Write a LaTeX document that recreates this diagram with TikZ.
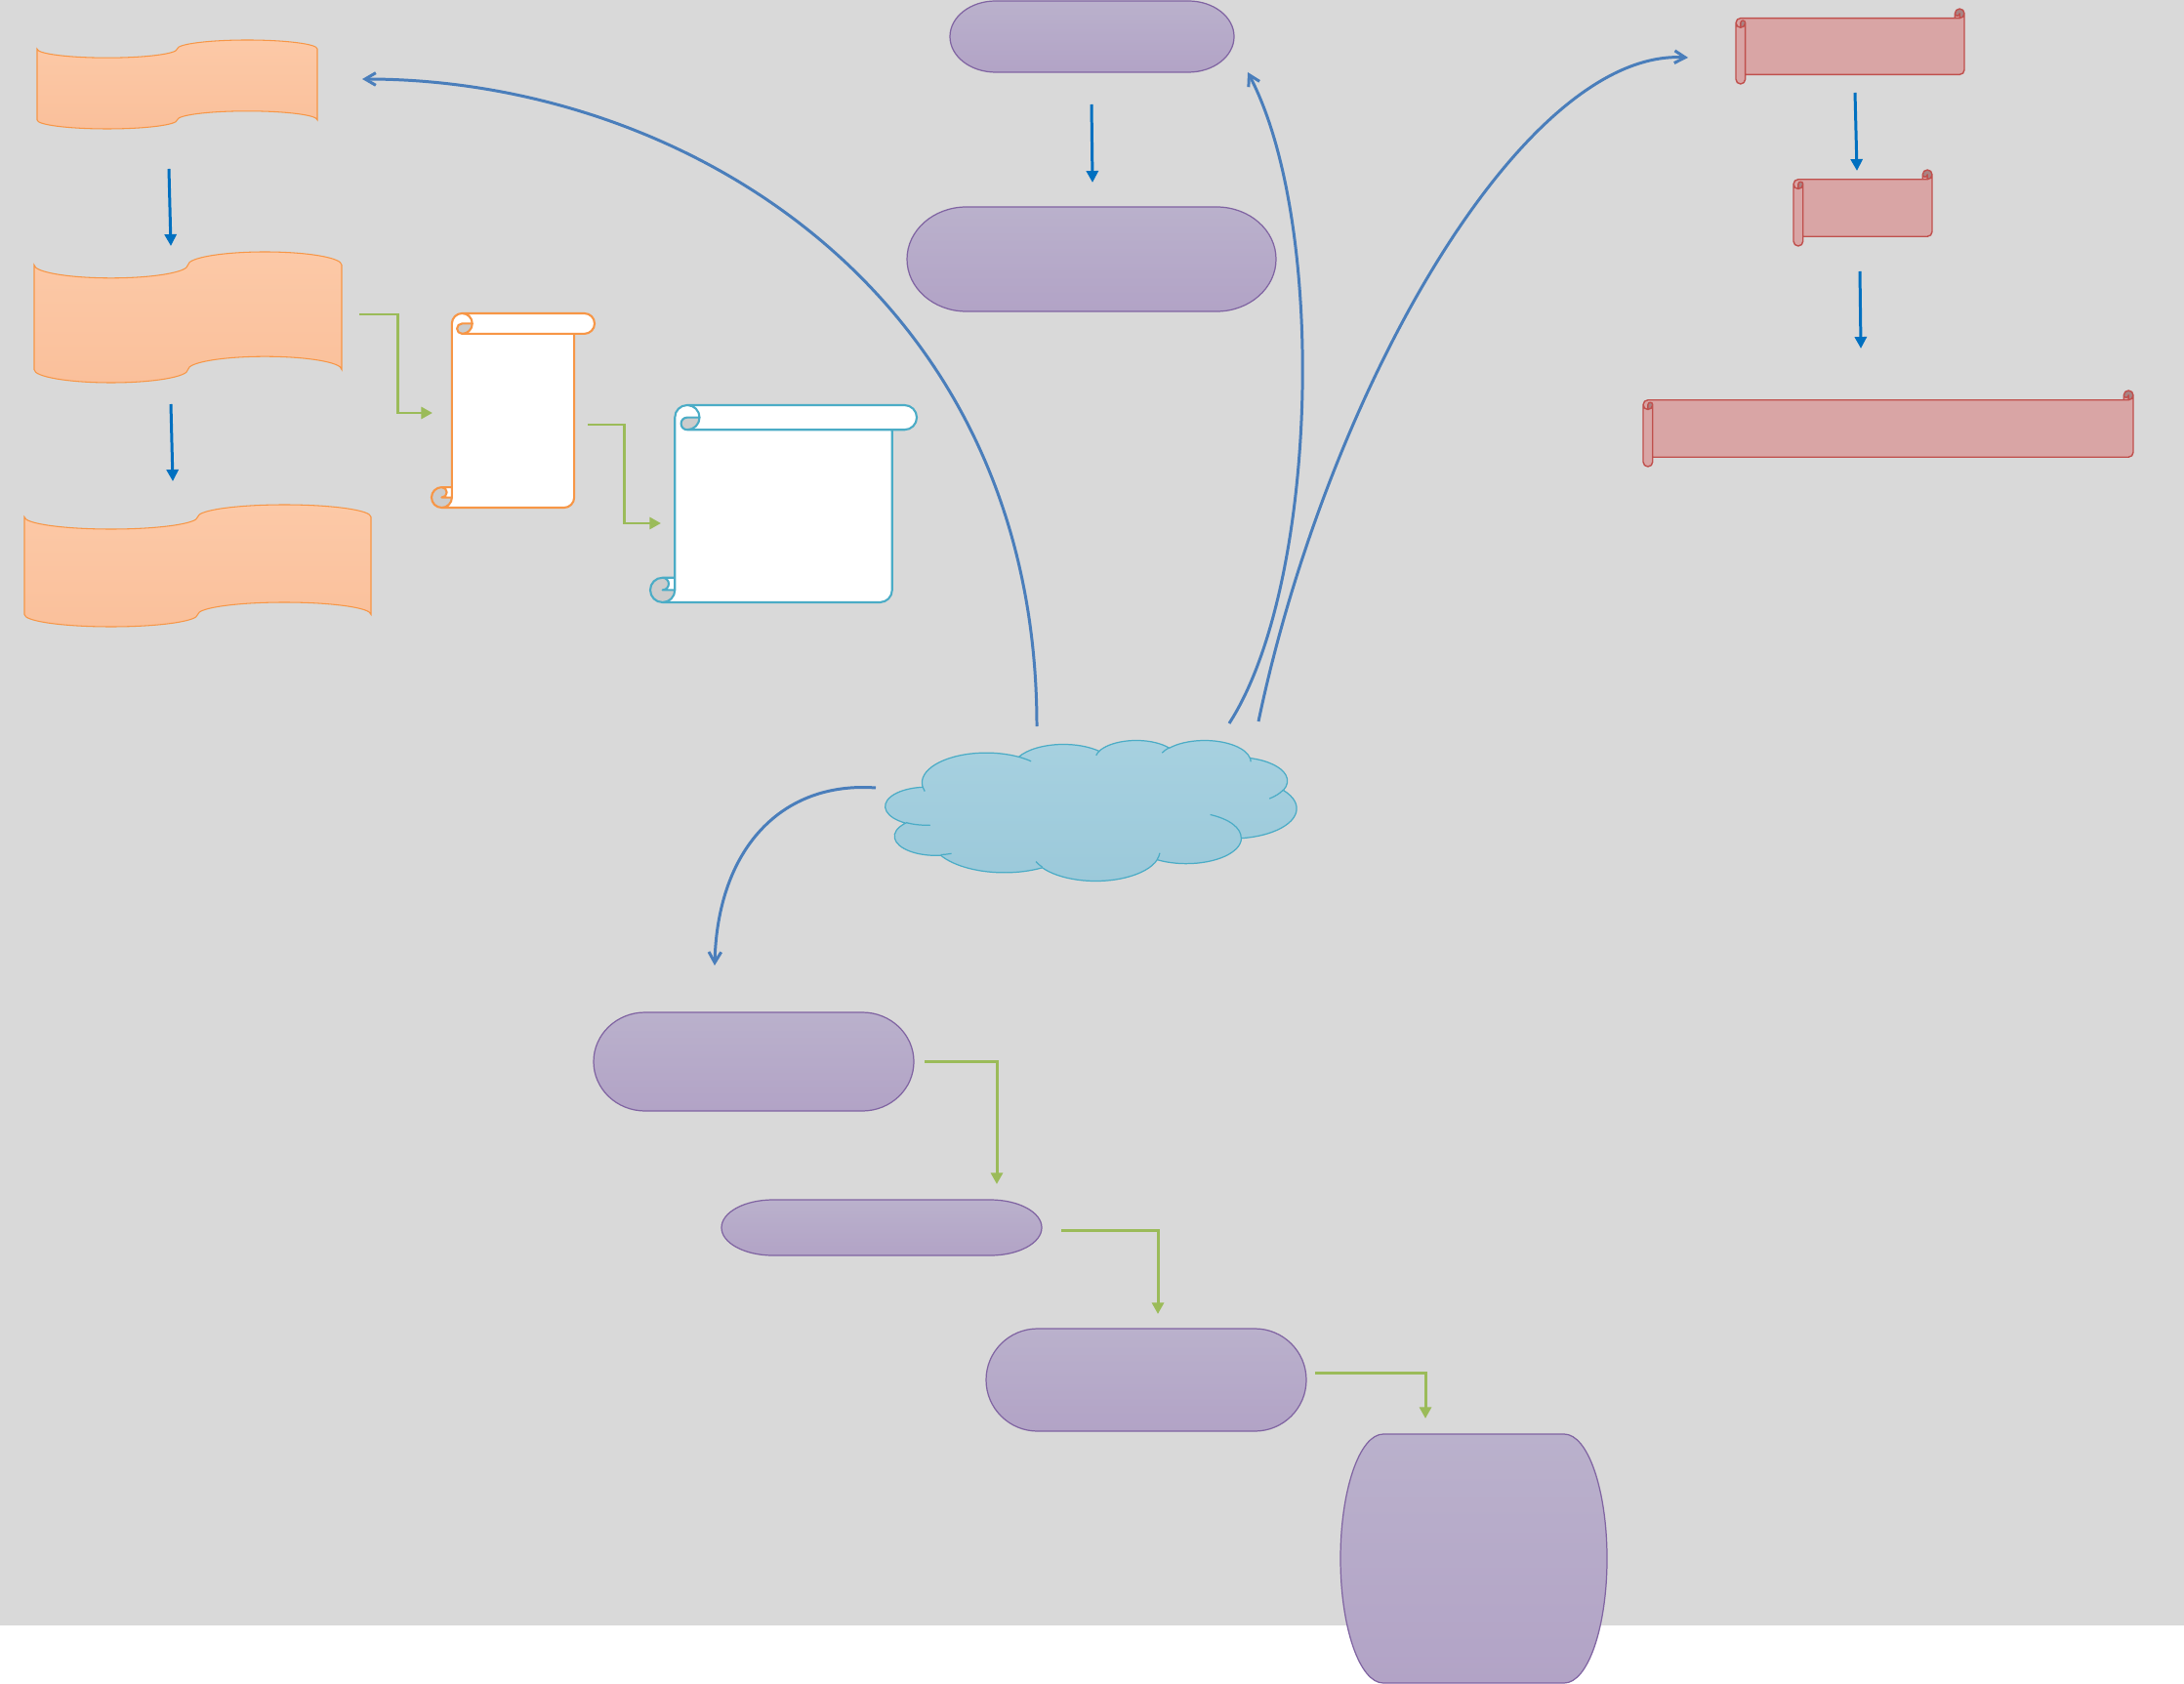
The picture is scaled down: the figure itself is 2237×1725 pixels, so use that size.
\documentclass[tikz,border=0pt]{standalone}
\usetikzlibrary{arrows.meta}
\definecolor{bgc}{HTML}{D9D9D9}
\definecolor{orT}{HTML}{FCC9A7}
\definecolor{orB}{HTML}{FAC09B}
\definecolor{orS}{HTML}{F79646}
\definecolor{puT}{HTML}{BAB1CC}
\definecolor{puB}{HTML}{B2A3C6}
\definecolor{puS}{HTML}{8064A2}
\definecolor{reF}{HTML}{D9A5A5}
\definecolor{reS}{HTML}{C0504D}
\definecolor{reD}{HTML}{A98383}
\definecolor{clT}{HTML}{A7D1E0}
\definecolor{clB}{HTML}{9BC9DA}
\definecolor{clS}{HTML}{4BACC6}
\definecolor{bluS}{HTML}{4BACC6}
\definecolor{curvC}{HTML}{4A7EBB}
\definecolor{arrB}{HTML}{0070C0}
\definecolor{grn}{HTML}{9BBB59}
\definecolor{scrD}{HTML}{CCCCCC}
\tikzset{
 tapest/.style={draw=orS, line width=0.3pt, top color=orT, bottom color=orB},
 purp/.style={draw=puS, line width=0.35pt, top color=puT, bottom color=puB},
 cloudst/.style={draw=clS, line width=0.35pt, top color=clT, bottom color=clB},
 cloudin/.style={draw=clS, line width=0.35pt},
 osfill/.style={fill=white}, osdark/.style={fill=scrD},
 osline/.style={draw=orS, line width=0.6pt, line join=round},
 bsfill/.style={fill=white}, bsdark/.style={fill=scrD},
 bsline/.style={draw=bluS, line width=0.6pt, line join=round},
 rsfill/.style={fill=reF}, rsdark/.style={fill=reD},
 rsline/.style={draw=reS, line width=0.4pt, line join=round},
 curv/.style={draw=curvC, line width=0.85pt, -{Straight Barb[length=3.1pt,width=3.6pt]}},
 barr/.style={draw=arrB, line width=0.85pt, -{Triangle[length=3.4pt,width=3.4pt]}},
 garr/.style={draw=grn, line width=0.85pt, -{Triangle[length=3.3pt,width=3.4pt]}},
 carc/.style n args={4}{/utils/exec={%
   \pgfmathsetmacro\cA{atan2(#1*sin(#3),#2*cos(#3))}%
   \pgfmathsetmacro\cB{mod(atan2(#1*sin(#3+#4),#2*cos(#3+#4))-\cA+720,360)}},
   insert path={arc[x radius=#1,y radius=#2,start angle=\cA,delta angle=\cB]}}
}
% punched tape: L T w h
\newcommand\ptape[4]{%
\begin{scope}[shift={(#1,#2)}]
\pgfmathsetmacro\ptW{#3/4}\pgfmathsetmacro\ptH{#4/10}%
\path[tapest] (0,\ptH) arc[start angle=180,delta angle=-180,x radius=\ptW,y radius=\ptH]
  arc[start angle=180,delta angle=180,x radius=\ptW,y radius=\ptH] -- (#3,#4-\ptH)
  arc[start angle=0,delta angle=-180,x radius=\ptW,y radius=\ptH]
  arc[start angle=0,delta angle=180,x radius=\ptW,y radius=\ptH] -- cycle;
\end{scope}}
% terminator: L T w h
\newcommand\termshape[4]{%
\pgfmathsetmacro\tmA{#3*0.16088}\pgfmathsetmacro\tmR{#4/2}%
\path[purp] (#1+\tmA,#2) -- (#1+#3-\tmA,#2) arc[start angle=-90,delta angle=180,x radius=\tmA,y radius=\tmR]
  -- (#1+\tmA,#2+#4) arc[start angle=90,delta angle=180,x radius=\tmA,y radius=\tmR] -- cycle;}
% vertical scroll: L T w h transform prefix
\newcommand\vscroll[6]{%
\begin{scope}[shift={(#1,#2)},#5]
\pgfmathsetmacro\scW{#3}\pgfmathsetmacro\scH{#4}%
\pgfmathsetmacro\scC{0.125*min(#3,#4)}%
\pgfmathsetmacro\scB{\scC/2}\pgfmathsetmacro\scQ{\scC/4}%
\path[#6fill] (\scC,\scH-\scC) -- (\scC,\scB) arc[start angle=180,delta angle=90,radius=\scB]
  -- (\scW-\scB,0) arc[start angle=270,delta angle=180,radius=\scB] -- (\scW-\scC,\scC)
  -- (\scW-\scC,\scH-\scB) arc[start angle=0,delta angle=90,radius=\scB]
  -- (\scB,\scH) arc[start angle=90,delta angle=180,radius=\scB] -- cycle;
\path[#6dark] (2*\scC,\scB) arc[start angle=0,delta angle=90,radius=\scB]
  arc[start angle=90,delta angle=180,radius=\scQ] -- cycle;
\path[#6dark] (\scC,\scH-\scB) arc[start angle=0,delta angle=270,radius=\scB]
  arc[start angle=270,delta angle=180,radius=\scQ] -- cycle;
\path[#6line] (\scC,\scH-\scC) -- (\scC,\scB) arc[start angle=180,delta angle=90,radius=\scB]
  -- (\scW-\scB,0) arc[start angle=270,delta angle=180,radius=\scB] -- (\scW-\scC,\scC)
  -- (\scW-\scC,\scH-\scB) arc[start angle=0,delta angle=90,radius=\scB]
  -- (\scB,\scH) arc[start angle=90,delta angle=180,radius=\scB] -- cycle
  (\scC+\scB,0) arc[start angle=270,delta angle=180,radius=\scB]
  arc[start angle=90,delta angle=180,radius=\scQ] -- (2*\scC,\scB)
  (\scW-\scC,\scC) -- (\scC+\scB,\scC)
  (\scB,\scH-\scC) arc[start angle=270,delta angle=180,radius=\scQ] -- (\scC,\scH-\scB)
  (\scB,\scH) arc[start angle=90,delta angle=-90,radius=\scB] -- (\scC,\scH-\scC);
\end{scope}}
\begin{document}
\begin{tikzpicture}[x=0.01cm,y=-0.01cm]
\useasboundingbox (0,0) rectangle (2237,1725);
\fill[bgc] (0,0) rectangle (2237,1665);
% left column: punched tapes
\ptape{38}{41}{287}{91}
\ptape{35}{258}{315}{134}
\ptape{25}{517}{355}{125}
% scrolls
\vscroll{442}{321}{167}{199}{}{os}
\vscroll{666}{415}{273}{202}{}{bs}
% top purple
\termshape{973}{1}{291}{73}
\termshape{929}{212}{378}{107}
% red scrolls
\vscroll{1778}{9}{77}{234}{cm={0,-1,-1,0,(0,0)}}{rs}
\vscroll{1837}{174}{78}{142}{cm={0,-1,-1,0,(0,0)}}{rs}
\vscroll{1683}{400}{78}{502}{cm={0,-1,-1,0,(0,0)}}{rs}
% cloud
\begin{scope}[shift={(907,758)},xscale=421/4320,yscale=144/4320]
\path[cloudst] (390,1437)
 [carc={675.3}{919.0}{-190.4875}{123.7805}]
 [carc={533.3}{726.7}{-144.1024}{89.9452}]
 [carc={436.5}{594.5}{-145.8079}{99.7230}]
 [carc={485.7}{659.5}{-130.9861}{117.2417}]
 [carc={533.3}{727.3}{-78.7089}{109.0269}]
 [carc={677.5}{922.0}{-46.2673}{130.2690}]
 [carc={578.5}{786.7}{0.6250}{114.0333}]
 [carc={675.2}{921.5}{22.4516}{115.1726}]
 [carc={772.0}{1054.3}{66.2426}{75.7110}]
 [carc={436.0}{591.8}{-274.9421}{146.7356}]
 [carc={434.5}{594.5}{-246.8285}{152.5189}] -- cycle;
\path[cloudin]
 (469.3,2617.7) [carc={434.5}{594.5}{86.7420}{26.4295}]
 (692.8,3489.9) [carc={436.0}{591.8}{73.6105}{11.4475}]
 (1647.8,3909.0) [carc={675.2}{921.5}{137.6242}{14.0811}]
 (2882.7,3475.1) [carc={675.2}{921.5}{6.4533}{15.9984}]
 (3412.9,2295.4) [carc={578.5}{786.7}{-70.2924}{70.9174}]
 (4179.8,1535.4) [carc={533.3}{727.3}{30.3180}{27.7515}]
 (3832.4,542.6) [carc={485.7}{659.5}{-13.7443}{14.8589}]
 (2907.8,395.2) [carc={485.7}{659.5}{-149.1815}{18.1954}]
 (2214.1,472.0) [carc={436.5}{594.5}{-163.4943}{17.6864}]
 (1400.0,519.2) [carc={675.3}{919.0}{-66.7070}{12.3194}]
 (412.7,1578.9) [carc={675.3}{919.0}{157.6544}{11.8582}];
\end{scope}
% bottom purple
\termshape{608}{1037}{328}{101}
\termshape{739}{1229}{328}{57}
\termshape{1010}{1361}{328}{105}
\termshape{1373}{1469}{273}{255}
% connector end points
\coordinate (a1s) at (173,173); \coordinate (a1e) at (175,252);
\coordinate (a2s) at (175,414); \coordinate (a2e) at (177,493);
\coordinate (a3s) at (1118,107); \coordinate (a3e) at (1119,187);
\coordinate (a4s) at (1900,95); \coordinate (a4e) at (1902,175);
\coordinate (a5s) at (1905,278); \coordinate (a5e) at (1906,357);
\coordinate (g1s) at (368,322); \coordinate (g1e) at (443,423);
\coordinate (g2s) at (602,435); \coordinate (g2e) at (677,536);
\coordinate (g3s) at (947,1087); \coordinate (g3e) at (1021,1213);
\coordinate (g4s) at (1087,1260); \coordinate (g4e) at (1186,1346);
\coordinate (g5s) at (1347,1406); \coordinate (g5e) at (1460,1453);
\coordinate (c1s) at (1062,744); \coordinate (c1e) at (371,81);
\coordinate (c2s) at (1259,741); \coordinate (c2e) at (1278,74);
\coordinate (c3s) at (1289,739); \coordinate (c3e) at (1729,59);
\coordinate (c4s) at (897,807); \coordinate (c4e) at (732,989);
% straight blue arrows
\draw[barr] (a1s) -- (a1e);
\draw[barr] (a2s) -- (a2e);
\draw[barr] (a3s) -- (a3e);
\draw[barr] (a4s) -- (a4e);
\draw[barr] (a5s) -- (a5e);
% green elbows
\draw[garr] (g1s) -| ++(39,101) -- (g1e);
\draw[garr] (g2s) -| ++(37,101) -- (g2e);
\draw[garr] (g3s) -| (g3e);
\draw[garr] (g4s) -| (g4e);
\draw[garr] (g5s) -| (g5e);
% curved connectors
\draw[curv] (c1s) .. controls (1062,300) and (700,81) .. (c1e);
\draw[curv] (c2s) .. controls (1350,600) and (1360,230) .. (c2e);
\draw[curv] (c3s) .. controls (1360,400) and (1560,50) .. (c3e);
\draw[curv] (c4s) .. controls (800,800) and (735,870) .. (c4e);
\end{tikzpicture}
\end{document}
